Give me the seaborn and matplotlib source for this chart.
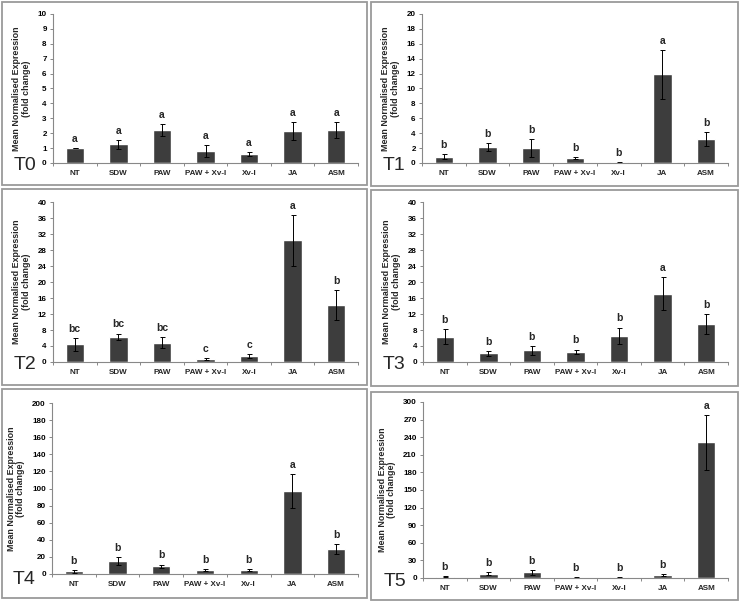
import numpy as np
import pandas as pd
import matplotlib
matplotlib.use("Agg")
import matplotlib.pyplot as plt
from matplotlib.patches import Rectangle
from matplotlib.ticker import MultipleLocator, FixedLocator
import seaborn as sns

sns.set_style("ticks")
plt.rcParams['font.family'] = ['Liberation Sans', 'DejaVu Sans']

categories = ["NT", "SDW", "PAW", "PAW + Xv-I", "Xv-I", "JA", "ASM"]

# mean fold change and error per time point
t0_mean = [1.0, 1.25, 2.2, 0.8, 0.62, 2.12, 2.2]
t0_err = [0.0, 0.3, 0.4, 0.38, 0.12, 0.6, 0.52]
t0_letters = ["a", "a", "a", "a", "a", "a", "a"]

t1_mean = [0.85, 2.15, 2.0, 0.65, 0.1, 11.9, 3.2]
t1_err = [0.3, 0.5, 1.2, 0.15, 0.05, 3.3, 0.9]
t1_letters = ["b", "b", "b", "b", "b", "a", "b"]

t2_mean = [4.4, 6.3, 4.8, 0.7, 1.5, 30.4, 14.3]
t2_err = [1.6, 0.8, 1.4, 0.3, 0.4, 6.3, 3.7]
t2_letters = ["bc", "bc", "bc", "c", "c", "a", "b"]

t3_mean = [6.3, 2.2, 2.9, 2.5, 6.5, 17.1, 9.5]
t3_err = [1.9, 0.6, 1.1, 0.6, 2.1, 4.1, 2.5]
t3_letters = ["b", "b", "b", "b", "b", "a", "b"]

t4_mean = [3.0, 15.0, 9.0, 4.5, 4.5, 97.0, 29.0]
t4_err = [1.5, 5.0, 2.0, 1.2, 1.2, 20.0, 6.0]
t4_letters = ["b", "b", "b", "b", "b", "a", "b"]

t5_mean = [2.0, 7.0, 9.5, 0.8, 1.2, 4.5, 231.0]
t5_err = [0.8, 2.5, 4.5, 0.5, 0.5, 1.5, 47.0]
t5_letters = ["b", "b", "b", "b", "b", "b", "a"]

panels = [
    ("T0", t0_mean, t0_err, t0_letters, 10, 1),
    ("T1", t1_mean, t1_err, t1_letters, 20, 2),
    ("T2", t2_mean, t2_err, t2_letters, 40, 4),
    ("T3", t3_mean, t3_err, t3_letters, 40, 4),
    ("T4", t4_mean, t4_err, t4_letters, 200, 20),
    ("T5", t5_mean, t5_err, t5_letters, 300, 30),
]

W, H = 740, 602
# axes pixel boxes (x0, x1, ytop, yzero), panel box (x0, y0, x1, y1)
ax_px = [(53, 358, 14, 163), (422, 728, 14, 163),
         (53, 358, 202, 362), (423, 728, 202, 362),
         (52, 358, 403, 574), (423, 728, 402, 578)]
box_px = [(2, 2, 367, 185), (371, 2, 738, 186),
          (2, 189, 367, 385), (371, 190, 738, 386),
          (2, 389, 367, 598), (371, 392, 738, 600)]
lab_px = [(25, 170), (394, 170), (25, 369), (394, 369), (24, 584), (395, 586)]

fig = plt.figure(figsize=(W / 100, H / 100), dpi=100)

for i, (name, mean, err, letters, ymax, step) in enumerate(panels):
    x0, x1, yt, yz = ax_px[i]
    ax = fig.add_axes([x0 / W, 1 - yz / H, (x1 - x0) / W, (yz - yt) / H])
    df = pd.DataFrame({"group": categories, "value": mean})
    sns.barplot(data=df, x="group", y="value", color="#3d3d3d", width=0.42,
                saturation=1, errorbar=None, ax=ax)
    xs = np.arange(len(categories))
    ax.errorbar(xs, mean, yerr=err, fmt="none", ecolor="black",
                elinewidth=0.7, capsize=1.8, capthick=0.7)
    for xi, m, e, l in zip(xs, mean, err, letters):
        ax.annotate(l, (xi, m + e), xytext=(0, 3), textcoords="offset points",
                    ha="center", va="bottom", fontsize=7.5, fontweight="bold")
    ax.set_xlim(-0.5, len(categories) - 0.5)
    ax.set_ylim(0, ymax)
    ax.yaxis.set_major_locator(MultipleLocator(step))
    ax.set_yticklabels([f"{int(v)}" for v in ax.get_yticks()])
    ax.tick_params(axis="y", labelsize=5.8, length=2.5, width=0.7, pad=2,
                   labelcolor="black", color="#888888")
    for t in ax.get_yticklabels():
        t.set_fontweight("bold")
    ax.tick_params(axis="x", which="major", length=0, labelsize=5.8, pad=5)
    for t in ax.get_xticklabels():
        t.set_fontweight("bold")
    ax.xaxis.set_minor_locator(FixedLocator(np.arange(-0.5, len(categories), 1.0)))
    ax.tick_params(axis="x", which="minor", length=2.5, width=0.7, color="#888888")
    ax.set_xlabel("")
    ax.set_ylabel("Mean Normalised Expression\n(fold change)", fontsize=6.4,
                  fontweight="bold", labelpad=5, linespacing=1.05)
    sns.despine(ax=ax)
    for side in ["left", "bottom"]:
        ax.spines[side].set_color("#888888")
        ax.spines[side].set_linewidth(0.8)

    bx0, by0, bx1, by1 = box_px[i]
    fig.add_artist(Rectangle((bx0 / W, 1 - by1 / H), (bx1 - bx0) / W, (by1 - by0) / H,
                             transform=fig.transFigure, fill=False,
                             edgecolor="#9a9a9a", linewidth=1.3))
    lx, ly = lab_px[i]
    fig.text(lx / W, 1 - ly / H, name, fontsize=14, ha="center", va="baseline")

fig.savefig("out.png", dpi=100)
